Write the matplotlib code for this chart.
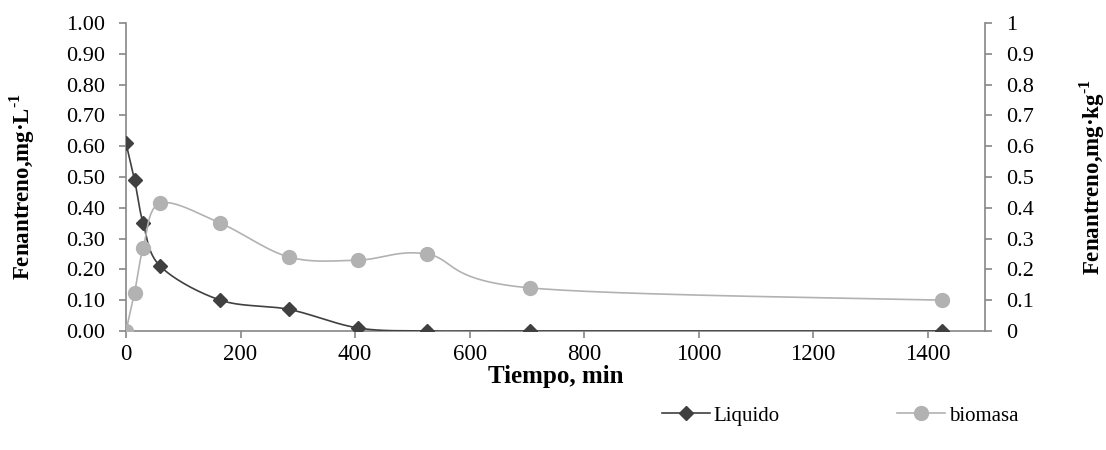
import matplotlib
matplotlib.use("Agg")
import matplotlib.pyplot as plt
import numpy as np

plt.rcParams['font.family'] = ['Liberation Serif', 'DejaVu Serif']
plt.rcParams['mathtext.fontset'] = 'custom'
plt.rcParams['mathtext.rm'] = 'Liberation Serif:bold'
plt.rcParams['mathtext.bf'] = 'Liberation Serif:bold'

# Data
tiempo = [0, 15, 30, 60, 165, 285, 405, 525, 705, 1425]
liquido = [0.61, 0.49, 0.35, 0.21, 0.10, 0.07, 0.01, 0.0, 0.0, 0.0]
biomasa = [0.0, 0.125, 0.27, 0.415, 0.35, 0.24, 0.23, 0.25, 0.14, 0.10]

XMAX = 1500
AX_W, AX_H = 859.0, 308.0  # approx pixel size of plot area, used for smoothing


def smooth(x, y, n=30):
    # Catmull-Rom style smoothing (like Excel's smoothed line), done in pixel-like space
    px = np.asarray(x, float) / XMAX * AX_W
    py = np.asarray(y, float) * AX_H
    P = np.column_stack([px, py])
    P = np.vstack([P[0], P, P[-1]])
    out = []
    for i in range(1, len(P) - 2):
        p0, p1, p2, p3 = P[i - 1], P[i], P[i + 1], P[i + 2]
        c1 = p1 + (p2 - p0) / 6.0
        c2 = p2 - (p3 - p1) / 6.0
        t = np.linspace(0, 1, n)[:, None]
        seg = ((1 - t) ** 3) * p1 + 3 * ((1 - t) ** 2) * t * c1 + 3 * (1 - t) * t ** 2 * c2 + t ** 3 * p2
        out.append(seg)
    out = np.vstack(out)
    return out[:, 0] / AX_W * XMAX, out[:, 1] / AX_H


GRAY = '#868686'
DARK = '#404040'
LIGHT = '#b2b2b2'

fig = plt.figure(figsize=(11.06, 4.5), dpi=100)
ax = fig.add_axes([126 / 1106, 1 - 331 / 450, 859 / 1106, 308 / 450])
ax2 = ax.twinx()

sx, sy = smooth(tiempo, liquido)
ax.plot(sx, sy, color=DARK, lw=1.2, zorder=3)
ax.plot(tiempo, liquido, ls='none', marker='D', color=DARK, ms=7, zorder=4)

bx, by = smooth(tiempo, biomasa)
ax2.plot(bx, by, color=LIGHT, lw=1.2, zorder=3)
ax2.plot(tiempo, biomasa, ls='none', marker='o', color=LIGHT, ms=10, zorder=4)

ax.set_xlim(0, XMAX)
ax.set_ylim(0, 1)
ax2.set_ylim(0, 1)
ax.set_xticks(range(0, 1600, 200))
ax.set_yticks(np.arange(0, 1.01, 0.1))
ax.set_yticklabels([f'{v:.2f}' for v in np.arange(0, 1.01, 0.1)])
ax2.set_yticks(np.arange(0, 1.01, 0.1))
ax2.set_yticklabels(['0'] + [f'{v:.1f}' for v in np.arange(0.1, 0.95, 0.1)] + ['1'])

for a in (ax, ax2):
    a.spines['top'].set_visible(False)
    for s in ('left', 'right', 'bottom'):
        a.spines[s].set_color(GRAY)
        a.spines[s].set_linewidth(1.2)
    a.tick_params(colors=GRAY, labelcolor='black', labelsize=16, length=5, width=1.2)
ax.spines['right'].set_visible(False)
ax2.spines['left'].set_visible(False)
ax2.spines['bottom'].set_visible(False)
ax.tick_params(axis='y', pad=10)
ax.tick_params(axis='x', pad=4, labelsize=16.5)
ax2.tick_params(axis='y', pad=10)

ax.set_xlabel('Tiempo, min', fontsize=18, fontweight='bold', labelpad=0)
ax.set_ylabel(r'Fenantreno,mg·L$^{\text{-1}}$', fontsize=16.5, fontweight='bold')
ax.yaxis.set_label_coords(-0.104, 0.47)
ax2.set_ylabel(r'Fenantreno,mg·kg$^{\text{-1}}$', fontsize=16.5, fontweight='bold')
ax2.yaxis.set_label_coords(1.108, 0.5)

h1 = plt.Line2D([], [], color=DARK, marker='D', ms=7, lw=1.2)
h2 = plt.Line2D([], [], color=LIGHT, marker='o', ms=10, lw=1.2)
fig.legend([h1, h2], ['Liquido', 'biomasa'], loc='center', bbox_to_anchor=(840 / 1106, 1 - 416 / 450),
           ncol=2, frameon=False, fontsize=15, handlelength=2.3, handletextpad=0.2, columnspacing=5.6)

fig.savefig('out.png', dpi=100)
